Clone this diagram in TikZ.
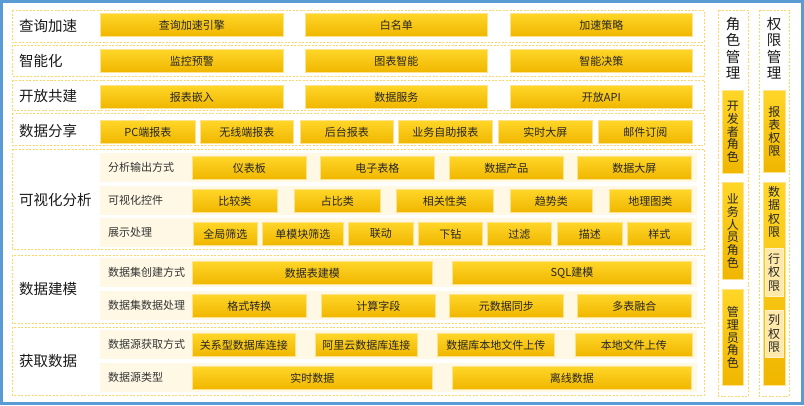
\documentclass[tikz,border=0pt]{standalone}
\usepackage{fontspec}
\setmainfont{Noto Sans CJK SC}

\definecolor{framec}{RGB}{255,214,102}
\definecolor{cellhi}{RGB}{255,214,40}
\definecolor{celllo}{RGB}{240,182,0}
\definecolor{cellrim}{RGB}{255,226,140}
\definecolor{bandc}{RGB}{255,248,228}
\definecolor{subc}{RGB}{255,233,170}
\definecolor{edgec}{RGB}{91,155,213}

\begin{document}
\begin{tikzpicture}[x=1pt, y=-1pt,
    cell/.style={draw=cellrim, line width=0.8pt, top color=cellhi, bottom color=celllo,
        inner sep=0pt, anchor=north west, minimum height=23, align=center,
        text=black!85, font=\fontsize{11}{13}\selectfont},
    rowframe/.style={draw=framec, line width=0.9pt, dash pattern=on 2pt off 1.5pt},
    band/.style={fill=bandc},
    mainlabel/.style={anchor=west, inner sep=0pt, text=black!90, font=\fontsize{14.5}{17}\selectfont},
    sublabel/.style={anchor=west, inner sep=0pt, text=black!80, font=\fontsize{11}{13}\selectfont},
    coltitle/.style={align=center, inner sep=0pt, text=black!90, font=\fontsize{14.5}{16.5}\selectfont},
    subcell/.style={fill=subc, draw=subc!60!white, inner sep=0pt, anchor=north west, align=center,
        text=black!85, font=\fontsize{12}{13.5}\selectfont}]

    \useasboundingbox (0,0) rectangle (804,405);
    \draw[edgec, line width=3pt] (1.5,1.5) rectangle (802.5,403.5);

    % Row frames on the left
    \draw[rowframe] (12,10) rectangle (704,42);
    \draw[rowframe] (12,45) rectangle (704,76);
    \draw[rowframe] (12,80) rectangle (704,110);
    \draw[rowframe] (12,113) rectangle (704,145);
    \draw[rowframe] (12,149) rectangle (704,249);
    \draw[rowframe] (12,255) rectangle (704,323);
    \draw[rowframe] (12,327) rectangle (704,395);

    % Beige bands behind the sub rows
    \foreach \y in {153,186,218,258,291,330,363}
        \fill[band] (100,\y) rectangle (697,\y+29);

    % Row titles
    \node[mainlabel] (accLabel) at (19,26) {查询加速};
    \node[mainlabel] (aiLabel) at (19,61) {智能化};
    \node[mainlabel] (openLabel) at (19,96) {开放共建};
    \node[mainlabel] (shareLabel) at (19,131) {数据分享};
    \node[mainlabel] (visLabel) at (19,200) {可视化分析};
    \node[mainlabel] (modLabel) at (19,289) {数据建模};
    \node[mainlabel] (srcLabel) at (19,361) {获取数据};

    % Three-box rows
    \node[cell, minimum width=183] (acc1) at (100,13) {查询加速引擎};
    \node[cell, minimum width=182] (acc2) at (305,13) {白名单};
    \node[cell, minimum width=182] (acc3) at (510,13) {加速策略};
    \node[cell, minimum width=183] (ai1) at (100,49) {监控预警};
    \node[cell, minimum width=182] (ai2) at (305,49) {图表智能};
    \node[cell, minimum width=182] (ai3) at (510,49) {智能决策};
    \node[cell, minimum width=183] (open1) at (100,85) {报表嵌入};
    \node[cell, minimum width=182] (open2) at (305,85) {数据服务};
    \node[cell, minimum width=182] (open3) at (510,85) {开放API};

    % Sharing
    \foreach \x/\w/\t [count=\i] in {100/95/PC端报表, 200/93/无线端报表, 300/93/后台报表,
        398/94/业务自助报表, 498/94/实时大屏, 598/94/邮件订阅}
        \node[cell, minimum width=\w] (share\i) at (\x,120) {\t};

    % Visual analysis
    \node[sublabel] (outLabel) at (108,167.5) {分析输出方式};
    \node[sublabel] (ctlLabel) at (108,200.5) {可视化控件};
    \node[sublabel] (procLabel) at (108,232.5) {展示处理};
    \foreach \x/\t [count=\i] in {192/仪表板, 320/电子表格, 449/数据产品, 577/数据大屏}
        \node[cell, minimum width=114] (out\i) at (\x,156) {\t};
    \foreach \x/\w/\t [count=\i] in {192/85/比较类, 294/86/占比类, 396/97/相关性类,
        510/82/趋势类, 609/82/地理图类}
        \node[cell, minimum width=\w] (ctl\i) at (\x,189) {\t};
    \foreach \x/\w/\t [count=\i] in {193/64/全局筛选, 262/81/单模块筛选, 348/65/联动,
        418/64/下钻, 487/64/过滤, 557/65/描述, 627/64/样式}
        \node[cell, minimum width=\w] (proc\i) at (\x,222) {\t};

    % Data modelling
    \node[sublabel] (mkLabel) at (108,272.5) {数据集创建方式};
    \node[sublabel] (mpLabel) at (108,305.5) {数据集数据处理};
    \node[cell, minimum width=240] (mod1) at (192,261) {数据表建模};
    \node[cell, minimum width=239] (mod2) at (452,261) {SQL建模};
    \foreach \x/\t [count=\i] in {192/格式转换, 321/计算字段, 449/元数据同步, 577/多表融合}
        \node[cell, minimum width=114] (mproc\i) at (\x,294) {\t};

    % Data sources
    \node[sublabel] (getLabel) at (108,344.5) {数据源获取方式};
    \node[sublabel] (typLabel) at (108,377.5) {数据源类型};
    \foreach \x/\w/\t [count=\i] in {192/103/关系型数据库连接, 315/102/阿里云数据库连接,
        437/117/数据库本地文件上传, 575/117/本地文件上传}
        \node[cell, minimum width=\w] (src\i) at (\x,333) {\t};
    \node[cell, minimum width=240] (typ1) at (192,366) {实时数据};
    \node[cell, minimum width=239] (typ2) at (452,366) {离线数据};

    % Roles
    \draw[rowframe] (718,10) rectangle (748,396);
    \node[coltitle] (roleTitle) at (733,48) {角\\色\\管\\理};
    \node[cell, minimum width=21, minimum height=83, font=\fontsize{12}{12.8}\selectfont] (dev) at (722,90) {开\\发\\者\\角\\色};
    \node[cell, minimum width=21, minimum height=97, font=\fontsize{12}{12.8}\selectfont] (biz) at (722,182) {业\\务\\人\\员\\角\\色};
    \node[cell, minimum width=21, minimum height=96, font=\fontsize{12}{12.8}\selectfont] (admin) at (722,289) {管\\理\\员\\角\\色};

    % Permissions
    \draw[rowframe] (759,10) rectangle (789,396);
    \node[coltitle] (permTitle) at (774,48) {权\\限\\管\\理};
    \node[cell, minimum width=22, minimum height=82, font=\fontsize{12}{13.3}\selectfont] (permReport) at (763,90) {报\\表\\权\\限};
    \node[cell, minimum width=22, minimum height=203] (permData) at (763,182) {};
    \node[align=center, inner sep=0pt, text=black!85, font=\fontsize{12}{13.3}\selectfont] (permDataText) at (774,212) {数\\据\\权\\限};
    \node[subcell, minimum width=18, minimum height=48] (rowPerm) at (765,248) {行\\权\\限};
    \node[subcell, minimum width=18, minimum height=47] (colPerm) at (765,310) {列\\权\\限};
\end{tikzpicture}
\end{document}
